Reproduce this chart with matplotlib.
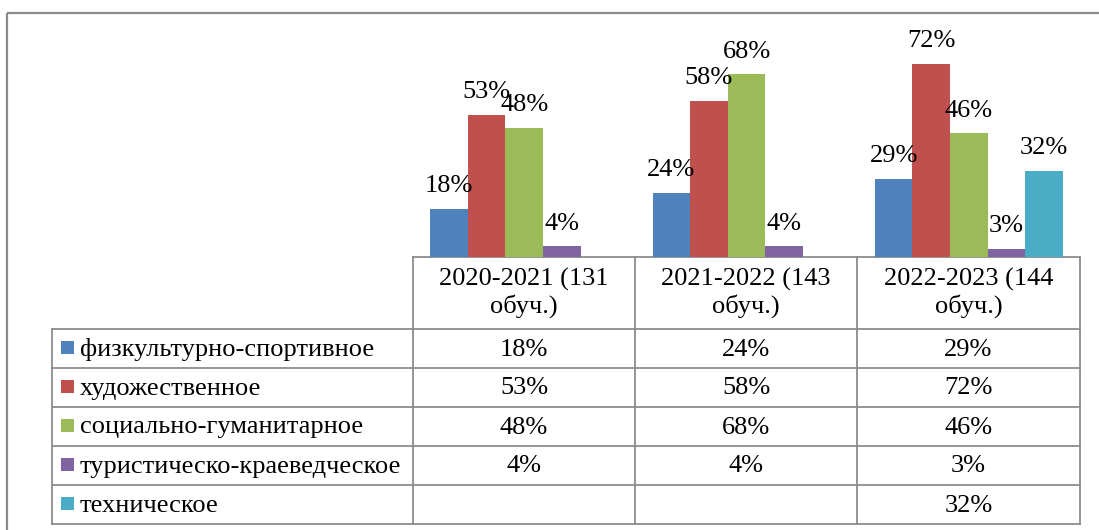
import numpy as np
import matplotlib
matplotlib.use("Agg")
import matplotlib.pyplot as plt
from matplotlib import font_manager

# ---- data ----
categories = ["2020-2021 (131 обуч.)", "2021-2022 (143 обуч.)", "2022-2023 (144 обуч.)"]
series_names = ["физкультурно-спортивное", "художественное", "социально-гуманитарное",
                "туристическо-краеведческое", "техническое"]
fizkult = [18, 24, 29]
hudozh = [53, 58, 72]
social = [48, 68, 46]
turist = [4, 4, 3]
tehn = [None, None, 32]
series_values = [fizkult, hudozh, social, turist, tehn]
colors = ["#4F81BD", "#C0504D", "#9BBB59", "#8064A2", "#4BACC6"]

# pick an installed Times-like serif font
avail = {f.name for f in font_manager.fontManager.ttflist}
serif_choice = None
for cand in ["Liberation Serif", "Tinos", "Times New Roman", "Nimbus Roman",
             "DejaVu Serif", "Noto Serif"]:
    if cand in avail:
        serif_choice = cand
        break
if serif_choice is None:
    serifs = sorted(n for n in avail if "Serif" in n and "Sans" not in n)
    serif_choice = serifs[0] if serifs else "DejaVu Sans"

W, H = 1099, 530
plt.rcParams['font.family'] = [serif_choice, 'DejaVu Sans']
fs = 19
fig = plt.figure(figsize=(W / 100, H / 100), dpi=100)

# overlay axes in pixel coordinates for frame + table
ov = fig.add_axes([0, 0, 1, 1])
ov.set_xlim(0, W)
ov.set_ylim(H, 0)
ov.axis('off')

frame_c = "#8a8a8a"
ov.plot([6.5, 6.5], [H + 5, 12.5], color=frame_c, lw=1.6, solid_capstyle='butt')
ov.plot([6.5, W + 5], [12.5, 12.5], color=frame_c, lw=1.6, solid_capstyle='butt')

# table geometry
t_left = 52
col_edges = [413, 635, 857, 1080]
head_top = 257
head_bot = 329
row_h = 39
n_rows = len(series_names)
t_bot = head_bot + n_rows * row_h
grid_c = "#8c8c8c"
glw = 1.3

ov.plot([col_edges[0], col_edges[-1]], [head_top, head_top], color=grid_c, lw=glw)
for r in range(n_rows + 1):
    y = head_bot + r * row_h
    ov.plot([t_left, col_edges[-1]], [y, y], color=grid_c, lw=glw)
ov.plot([t_left, t_left], [head_bot, t_bot], color=grid_c, lw=glw)
for xe in col_edges:
    ov.plot([xe, xe], [head_top, t_bot], color=grid_c, lw=glw)

# header text
for j, cat in enumerate(categories):
    cx = (col_edges[j] + col_edges[j + 1]) / 2
    head, tail = cat.rsplit(" ", 1)
    ov.text(cx, 279, head, ha='center', va='center', fontsize=fs)
    ov.text(cx, 306, tail, ha='center', va='center', fontsize=fs)

# rows
for i, name in enumerate(series_names):
    cy = head_bot + i * row_h + row_h / 2
    ov.add_patch(plt.Rectangle((61, cy - 8), 13, 13, color=colors[i], lw=0))
    ov.text(80, cy + 1, name, ha='left', va='center', fontsize=fs)
    for j, v in enumerate(series_values[i]):
        if v is None:
            continue
        cx = (col_edges[j] + col_edges[j + 1]) / 2
        ov.text(cx, cy + 1, f"{v}%", ha='center', va='center', fontsize=fs)

# bar chart axes
y_top = 42
ax = fig.add_axes([col_edges[0] / W, (H - head_top) / H,
                   (col_edges[-1] - col_edges[0]) / W, (head_top - y_top) / H])
ax.patch.set_alpha(0)
ax.set_xlim(-0.5, len(categories) - 0.5)
ax.set_ylim(0, 80)
ax.axis('off')

bw = 0.169
n_s = len(series_values)
x = np.arange(len(categories))
for i, vals in enumerate(series_values):
    xs = [x[j] + (i - (n_s - 1) / 2) * bw for j, v in enumerate(vals) if v is not None]
    vs = [v for v in vals if v is not None]
    ax.bar(xs, vs, width=bw, color=colors[i], edgecolor='none')
    for xx, vv in zip(xs, vs):
        ax.annotate(f"{vv}%", (xx, vv), xytext=(0, 12), textcoords='offset points',
                    ha='center', va='baseline', fontsize=fs, annotation_clip=False)

fig.savefig("out.png", dpi=100)
